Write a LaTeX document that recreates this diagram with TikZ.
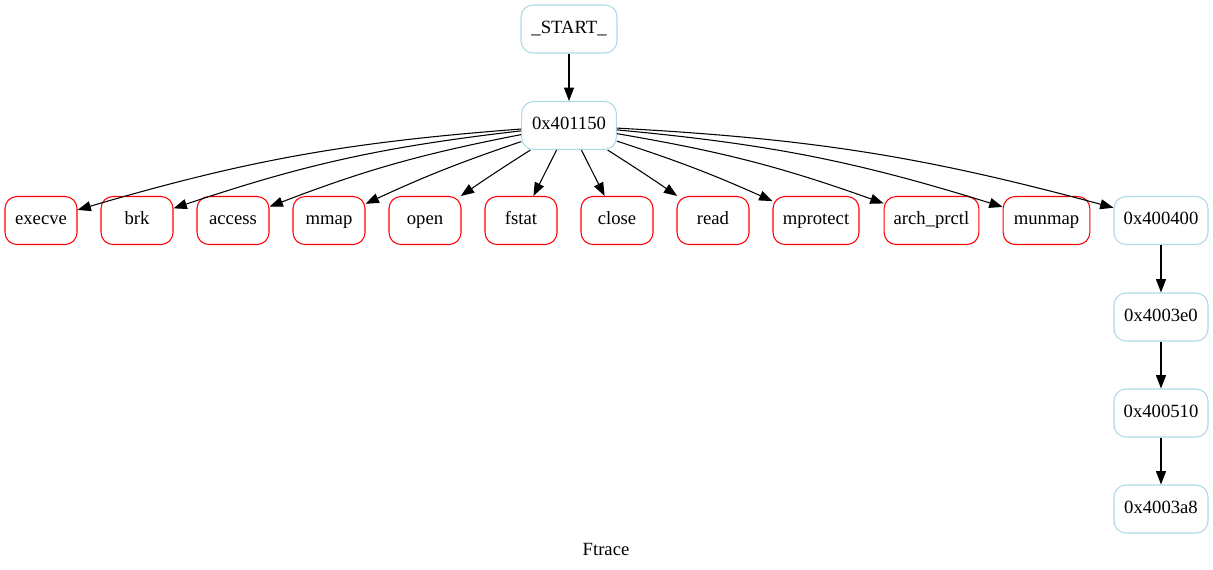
\documentclass[tikz,border=0pt]{standalone}
\usepackage{fontspec}
\setmainfont{Liberation Serif}
\usetikzlibrary{arrows.meta}
\definecolor{lblue}{HTML}{ADD8E6}
\definecolor{gvred}{HTML}{FF0000}
\begin{document}
\begin{tikzpicture}[x=0.75pt,y=-0.75pt,
  gnode/.style={draw, line width=0.8pt, rounded corners=9pt, minimum width=54pt,
    minimum height=36pt, inner xsep=0pt, inner ysep=0pt,
    text height=9.5pt, text depth=3pt,
    font=\fontsize{14pt}{16pt}\selectfont},
  addr/.style={gnode, draw=lblue},
  sys/.style={gnode, draw=gvred},
  edge/.style={draw, line width=0.8pt, -{Triangle[length=10pt,width=7.5pt]}}]
\useasboundingbox (0,0) rectangle (1213,569);

% call chain entry points
\node[addr, minimum width=72pt] (start) at (569,29) {\_START\_};
\node[addr, minimum width=71pt] (hub) at (569,125.5) {0x401150};

% system calls issued from the hub
\node[sys] (execve) at (41,220.5) {execve};
\node[sys] (brk) at (137,220.5) {brk};
\node[sys] (access) at (233,220.5) {access};
\node[sys] (mmap) at (329,220.5) {mmap};
\node[sys] (open) at (425,220.5) {open};
\node[sys] (fstat) at (521,220.5) {fstat};
\node[sys] (close) at (617,220.5) {close};
\node[sys] (read) at (713,220.5) {read};
\node[sys, minimum width=64.5pt] (mprotect) at (816,220.5) {mprotect};
\node[sys, minimum width=71pt] (archprctl) at (931.5,220.5) {arch\_prctl};
\node[sys, minimum width=65pt] (munmap) at (1046.5,220.5) {munmap};

% address chain on the right
\node[addr, minimum width=70.5pt] (a400400) at (1161,220.5) {0x400400};
\node[addr, minimum width=70.5pt] (a4003e0) at (1161,317) {0x4003e0};
\node[addr, minimum width=70.5pt] (a400510) at (1161,413) {0x400510};
\node[addr, minimum width=70.5pt] (a4003a8) at (1161,509) {0x4003a8};

\node[font=\fontsize{14pt}{16pt}\selectfont] (title) at (606,549) {Ftrace};

% edges
\draw[edge] (start) -- (hub);
\draw[edge] (hub) to[bend right=6] (execve);
\draw[edge] (hub) to[bend right=6] (brk);
\draw[edge] (hub) to[bend right=5] (access);
\draw[edge] (hub) to[bend right=3] (mmap);
\draw[edge] (hub) to[bend right=1] (open);
\draw[edge] (hub) -- (fstat);
\draw[edge] (hub) -- (close);
\draw[edge] (hub) to[bend left=1] (read);
\draw[edge] (hub) to[bend left=3] (mprotect);
\draw[edge] (hub) to[bend left=5] (archprctl);
\draw[edge] (hub) to[bend left=6] (munmap);
\draw[edge] (hub) to[bend left=6] (a400400);
\draw[edge] (a400400) -- (a4003e0);
\draw[edge] (a4003e0) -- (a400510);
\draw[edge] (a400510) -- (a4003a8);
\end{tikzpicture}
\end{document}
